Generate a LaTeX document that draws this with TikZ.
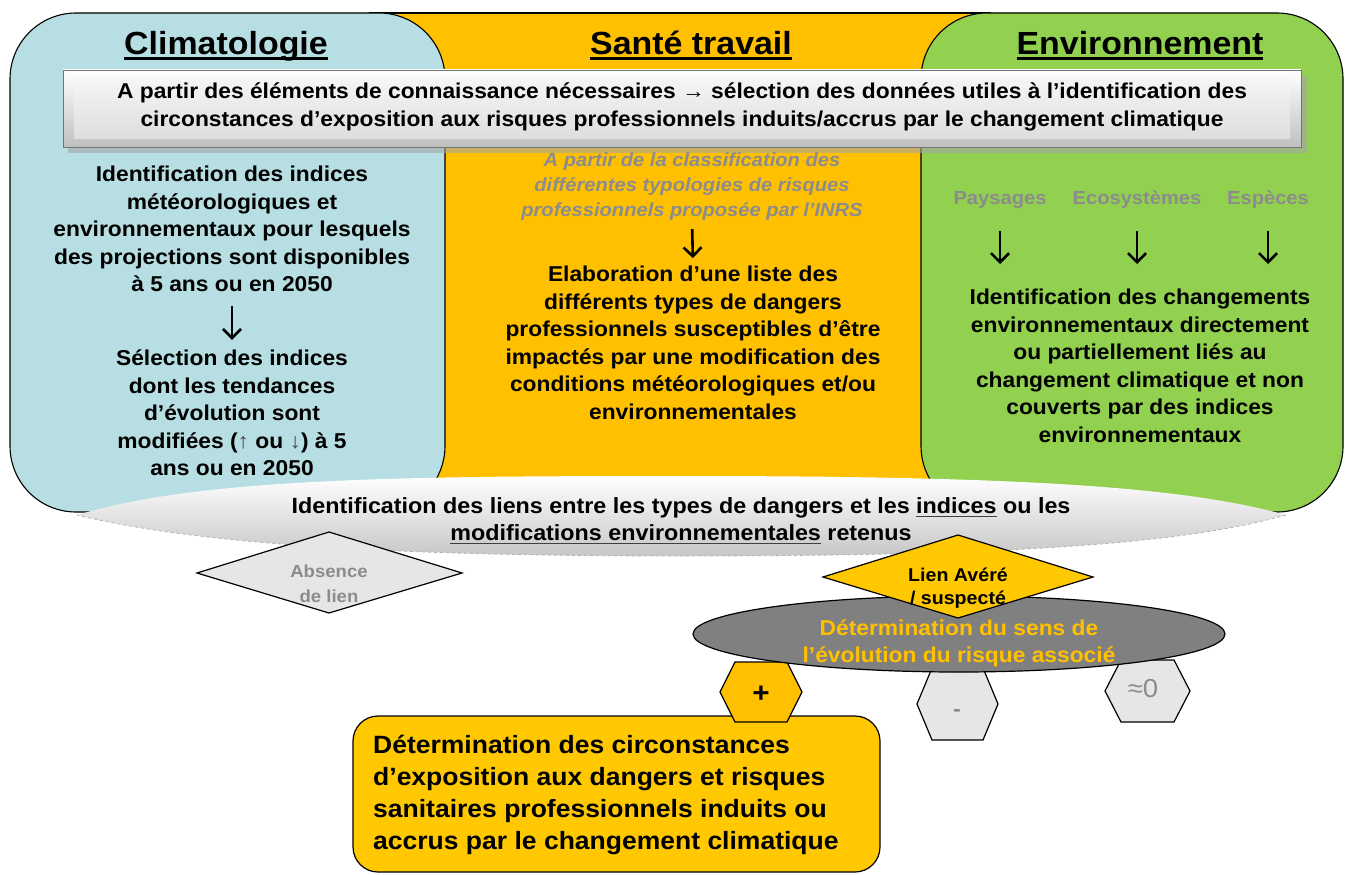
\documentclass[tikz,border=0pt]{standalone}
\usepackage{fontspec}
\setmainfont{Liberation Sans}
\newfontfamily\F[FakeStretch=1.06]{Liberation Sans}
\usetikzlibrary{arrows.meta,shapes.geometric}
\definecolor{cblue}{HTML}{B7DEE2}
\definecolor{corange}{HTML}{FFC000}
\definecolor{cgreen}{HTML}{92D050}
\definecolor{cgold}{HTML}{FFC800}
\definecolor{cgraytxt}{HTML}{8C8C8C}
\definecolor{clight}{HTML}{E6E6E6}
\definecolor{cdark}{HTML}{808080}
\newcommand\fs[2]{\fontsize{#1}{#2}\selectfont}
\newlength\ulw
\newcommand\myul[3]{\settowidth\ulw{#3}\rlap{\rule[-#1]{\ulw}{#2}}#3}
\tikzset{
  panel/.style={draw=black, line width=1.1pt},
  titletxt/.style={font=\F\bfseries\fs{32}{38}, inner sep=0, anchor=base},
  coltext/.style={font=\F\bfseries\fs{21.5}{27.5}, align=center, inner sep=0},
  graytext/.style={font=\F\bfseries\itshape\fs{19}{25}, text=cgraytxt, align=center, inner sep=0},
  glabel/.style={font=\F\bfseries\fs{19}{24}, text=cgraytxt, inner sep=0},
  bigarrow/.style={line width=2.6pt, -{Straight Barb[length=9pt,width=18pt]}},
  shapeline/.style={draw=black, line width=1.2pt},
}
\begin{document}
\begin{tikzpicture}[x=1pt,y=-1pt]
\useasboundingbox (0,0) rectangle (1346,875);
\fill[white] (0,0) rectangle (1346,875);
% panels
\draw[panel, fill=corange] (370,13) rectangle (990,495);
\draw[panel, fill=cblue, rounded corners=66pt] (10,13) rectangle (445,512);
\draw[panel, fill=cgreen, rounded corners=66pt] (921,13) rectangle (1343,512);
% titles
\node[titletxt] (tclim) at (226,55) {\myul{5pt}{2.5pt}{Climatologie}};
\node[titletxt] (tsante) at (691,55) {\myul{5pt}{2.5pt}{Santé travail}};
\node[titletxt] (tenv) at (1140,55) {\myul{5pt}{2.5pt}{Environnement}};
% banner
\fill[black!35, opacity=0.6] (68,76) rectangle (1307,153);
\shade[top color=white, bottom color=black!25] (63,70) rectangle (1301,147);
\shade[top color=black!4, bottom color=black!13] (74,79) rectangle (1290,138);
\draw[black!55, line width=0.8pt] (63,70) rectangle (1301,147);
\node[font=\F\bfseries\fs{21.5}{28}, align=center, inner sep=0] (banner) at (682,107)
  {A partir des éléments de connaissance nécessaires {\mdseries →} sélection des données utiles à l’identification des\\
   circonstances d’exposition aux risques professionnels induits/accrus par le changement climatique};
% column 1
\node[coltext] (c1) at (232,229) {Identification des indices\\météorologiques et\\environnementaux pour lesquels\\des projections sont disponibles\\à 5 ans ou en 2050};
\node[coltext] (c2) at (232,413) {Sélection des indices\\dont les tendances\\d’évolution sont\\modifiées ({\mdseries\color{black!70}↑} ou {\mdseries\color{black!70}↓}) à 5\\ans ou en 2050};
\draw[bigarrow, shorten <=14pt, shorten >=10pt] (c1.south) -- (c2.north);
% column 2
\node[graytext] (o1) at (692,187) {A partir de la classification des\\différentes typologies de risques\\professionnels proposée par l’INRS};
\node[coltext] (o2) at (693,343) {Elaboration d’une liste des\\différents types de dangers\\professionnels susceptibles d’être\\impactés par une modification des\\conditions météorologiques et/ou\\environnementales};
\draw[bigarrow, shorten <=8pt, shorten >=8pt] (o1.south) -- (o2.north);
% column 3
\node[glabel] (pay) at (1000,200) {Paysages};
\node[glabel] (eco) at (1137,200) {Ecosystèmes};
\node[glabel] (esp) at (1268,200) {Espèces};
\coordinate (payend) at (1000,264);
\coordinate (ecoend) at (1137,264);
\coordinate (espend) at (1268,264);
\draw[bigarrow, shorten <=31pt] (pay.center) -- (payend);
\draw[bigarrow, shorten <=31pt] (eco.center) -- (ecoend);
\draw[bigarrow, shorten <=31pt] (esp.center) -- (espend);
\node[coltext] (g2) at (1140,366) {Identification des changements\\environnementaux directement\\ou partiellement liés au\\changement climatique et non\\couverts par des indices\\environnementaux};
% lens
\shade[top color=white, middle color=white, bottom color=black!22]
  (77,515) .. controls (200,478) and (400,476) .. (680,476)
  .. controls (1000,476) and (1180,485) .. (1286,515)
  .. controls (1180,545) and (1000,556) .. (680,556)
  .. controls (400,556) and (200,545) .. (77,515) -- cycle;
\draw[black!30, dashed, line width=0.8pt] (1286,515) .. controls (1180,545) and (1000,556) .. (680,556)
  .. controls (400,556) and (200,545) .. (77,515);
\node[font=\F\bfseries\fs{22}{27}, align=center, inner sep=0] (lens) at (681,521)
  {Identification des liens entre les types de dangers et les {\color{black!75}\myul{3.5pt}{1.2pt}{\color{black}indices}} ou les\\
   {\color{black!75}\myul{3.5pt}{1.2pt}{\color{black}modifications environnementales}} retenus};
% absence diamond
\draw[shapeline, fill=clight] (197,573) -- (329,532) -- (462,573) -- (329,613) -- cycle;
\node[font=\F\bfseries\fs{17.5}{25}, text=cgraytxt, align=center, inner sep=0] (abs) at (329,584) {Absence\\de lien};
% final box
\draw[shapeline, fill=cgold, rounded corners=25pt] (353,716) rectangle (880,872);
\node[font=\F\bfseries\fs{25}{32}, align=left, inner sep=0, anchor=west] (final) at (373,795)
  {Détermination des circonstances\\d’exposition aux dangers et risques\\sanitaires professionnels induits ou\\accrus par le changement climatique};
% hexagons
\draw[shapeline, fill=corange] (720,692) -- (735,662) -- (787,662) -- (802,692) -- (787,722) -- (735,722) -- cycle;
\node[font=\F\bfseries\fs{28}{30}, inner sep=0] (plus) at (761,694) {+};
\draw[shapeline, fill=clight] (917,704) -- (932,668) -- (983,668) -- (998,704) -- (983,740) -- (932,740) -- cycle;
\node[font=\F\bfseries\fs{22}{24}, text=cgraytxt, inner sep=0] (minus) at (957,713) {-};
\draw[shapeline, fill=clight] (1105,691) -- (1121,660) -- (1174,660) -- (1190,691) -- (1174,722) -- (1121,722) -- cycle;
\node[font=\F\fs{26}{28}, text=cgraytxt, inner sep=0] (zero) at (1143,689) {≈0};
% gray ellipse
\draw[shapeline, fill=cdark] (959,634) ellipse [x radius=266, y radius=38];
% lien diamond
\draw[shapeline, fill=cgold] (823,577) -- (958,535) -- (1093,577) -- (958,618) -- cycle;
\node[font=\F\bfseries\fs{18.5}{23}, align=center, inner sep=0] (lien) at (958,588) {Lien Avéré\\/ suspecté};
\node[font=\F\bfseries\fs{21.5}{27}, text=corange, align=center, inner sep=0] (det) at (959,643)
  {Détermination du sens de\\l’évolution du risque associé};
\end{tikzpicture}
\end{document}
